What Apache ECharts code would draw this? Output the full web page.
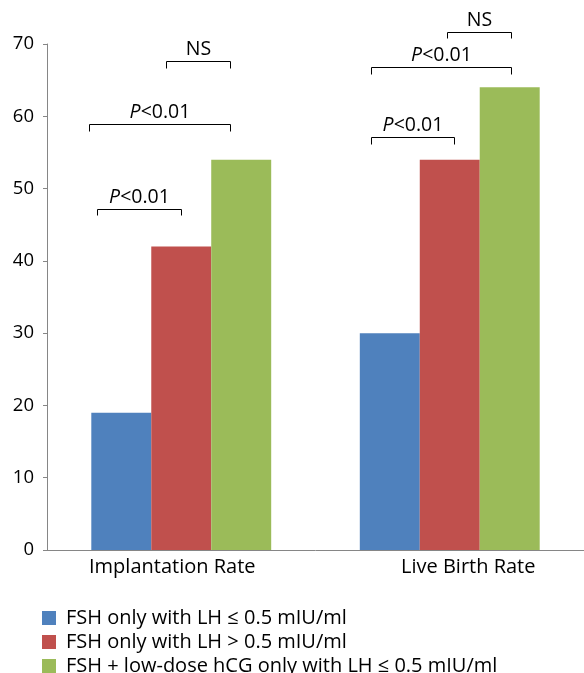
<!DOCTYPE html>
<html>
<head>
<meta charset="utf-8">
<script src="https://cdn.jsdelivr.net/npm/echarts@6/dist/echarts.min.js"></script>
<style>html,body{margin:0;padding:0;background:#fff;}#c{width:584px;height:673px;}</style>
</head>
<body>
<div id="c"></div>
<script>
const categories = ['Implantation Rate', 'Live Birth Rate'];
const seriesNames = [
  'FSH only with LH ≤ 0.5 mIU/ml',
  'FSH only with LH > 0.5 mIU/ml',
  'FSH + low-dose hCG only with LH ≤ 0.5 mIU/ml'
];
const blueValues = [19, 30];
const redValues = [42, 54];
const greenValues = [54, 64];
const yMin = 0, yMax = 70, yInterval = 10;

// significance brackets: x in category units (category i centred at i)
const bracketX1 = [-0.315, -0.344, -0.055, 0.706, 0.706, 0.99];
const bracketX2 = [0.0, 0.18, 0.18, 1.016, 1.228, 1.228];
const bracketY = [47.2, 58.9, 67.6, 57.1, 66.8, 71.7];
const bracketLabels = ['{i|P}<0.01', '{i|P}<0.01', 'NS', '{i|P}<0.01', '{i|P}<0.01', 'NS'];
const bracketDrop = 0.9;

const FONT = '"Open Sans", "DejaVu Sans", sans-serif';
const colors = ['#4F81BD', '#C0504D', '#9BBB59'];
const FS = 19.5;
const FS_BIG = 20;

const chart = echarts.init(document.getElementById('c'));
chart.setOption({
  animation: false,
  color: colors,
  textStyle: { fontFamily: FONT },
  grid: { left: 47, right: -2, top: 44, bottom: 123, containLabel: false },
  legend: {
    orient: 'vertical',
    left: 42,
    top: 608,
    height: 120,
    padding: 0,
    itemWidth: 14,
    itemHeight: 14,
    itemGap: 4,
    icon: 'rect',
    textStyle: { fontSize: FS_BIG, lineHeight: 19, color: '#000', fontFamily: FONT, padding: [0, 0, 0, 5] },
    data: seriesNames
  },
  xAxis: [{
    type: 'category',
    data: categories,
    axisLine: { lineStyle: { color: '#868686' } },
    axisTick: { show: false },
    axisLabel: {
      color: '#000',
      fontSize: FS_BIG,
      margin: 7,
      formatter: function (v, i) { return i === 0 ? '{a|' + v + '}' : '{b|' + v + '}'; },
      rich: {
        a: { fontSize: FS_BIG, color: '#000', fontFamily: FONT, padding: [0, 18, 0, 0] },
        b: { fontSize: FS_BIG, color: '#000', fontFamily: FONT, padding: [0, 0, 0, 37] }
      }
    }
  }, {
    type: 'value', min: -0.5, max: 1.5, show: false
  }],
  yAxis: {
    type: 'value',
    min: yMin, max: yMax, interval: yInterval,
    splitLine: { show: false },
    axisLine: { show: true, onZero: false, lineStyle: { color: '#868686' } },
    axisTick: { show: true, length: 4, lineStyle: { color: '#868686' } },
    axisLabel: { color: '#000', fontSize: 18.5, margin: 13 }
  },
  series: [
    { name: seriesNames[0], type: 'bar', data: blueValues, barGap: '0%', barCategoryGap: '33%' },
    { name: seriesNames[1], type: 'bar', data: redValues, barGap: '0%', barCategoryGap: '33%' },
    { name: seriesNames[2], type: 'bar', data: greenValues, barGap: '0%', barCategoryGap: '33%' },
    {
      type: 'custom',
      xAxisIndex: 1,
      yAxisIndex: 0,
      clip: false,
      silent: true,
      data: bracketX1.map((x, i) => [x, bracketX2[i], bracketY[i]]),
      renderItem: function (params, api) {
        const x1 = api.value(0), x2 = api.value(1), y = api.value(2);
        const p1 = api.coord([x1, y]);
        const p2 = api.coord([x2, y]);
        const b = api.coord([x1, y - bracketDrop]);
        const yy = Math.round(p1[1]) + 0.5;
        const yb = Math.round(b[1]) + 0.5;
        const xa = Math.round(p1[0]) + 0.5, xb = Math.round(p2[0]) + 0.5;
        return {
          type: 'group',
          children: [{
            type: 'polyline',
            shape: { points: [[xa, yb], [xa, yy], [xb, yy], [xb, yb]] },
            style: { stroke: '#000', lineWidth: 1, fill: null }
          }, {
            type: 'text',
            style: {
              text: bracketLabels[params.dataIndex],
              x: (xa + xb) / 2,
              y: yy - 2,
              align: 'center',
              verticalAlign: 'bottom',
              fontSize: FS,
              fontFamily: FONT,
              fill: '#000',
              rich: { i: { fontStyle: 'italic', fontSize: FS, fontFamily: FONT, fill: '#000' } }
            }
          }]
        };
      }
    }
  ]
});
</script>
</body>
</html>
